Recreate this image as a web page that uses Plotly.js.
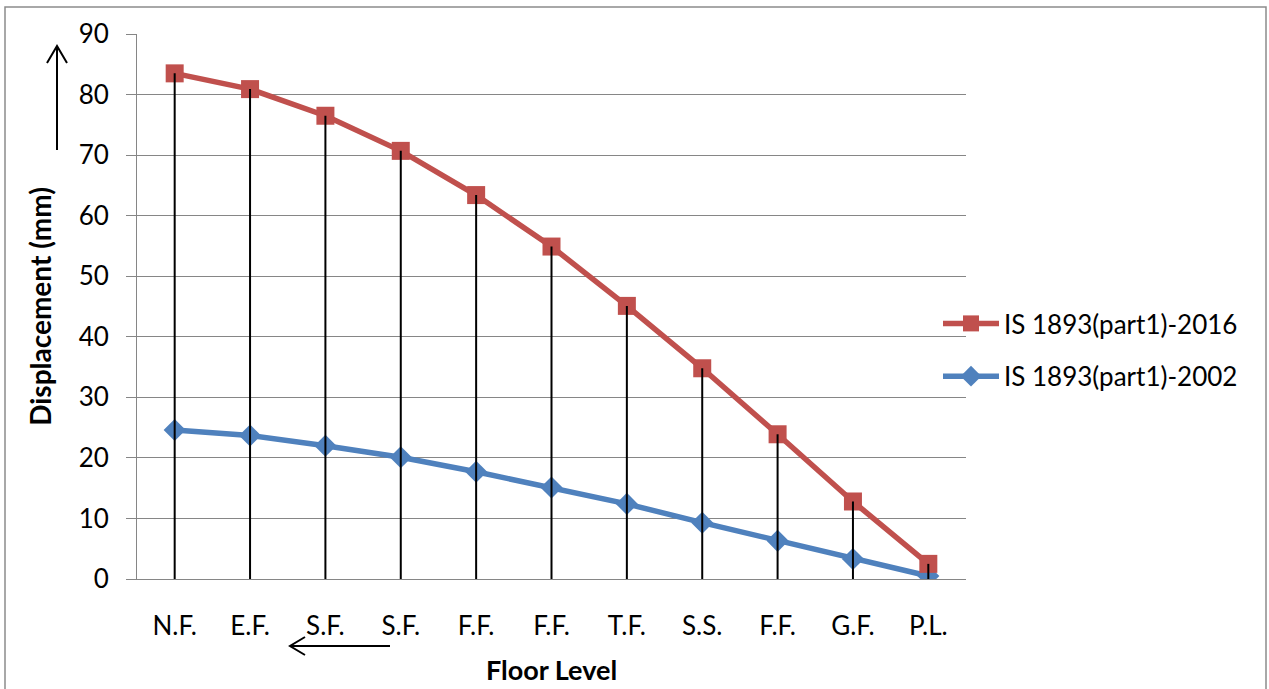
<!DOCTYPE html>
<html>
<head>
<meta charset="utf-8">
<script src="https://cdn.plot.ly/plotly-3.0.1.min.js"></script>
<style>html,body{margin:0;padding:0;background:#fff;}#chart{width:1269px;height:689px;}</style>
</head>
<body>
<div id="chart"></div>
<script>
var floorLabels = ["N.F.", "E.F.", "S.F.", "S.F.", "F.F.", "F.F.", "T.F.", "S.S.", "F.F.", "G.F.", "P.L."];
var disp2016 = [83.5, 80.9, 76.5, 70.7, 63.4, 54.9, 45.1, 34.8, 23.9, 12.8, 2.5];
var disp2002 = [24.6, 23.7, 22.0, 20.1, 17.7, 15.1, 12.4, 9.3, 6.3, 3.3, 0.5];
var name2016 = "IS 1893(part1)-2016";
var name2002 = "IS 1893(part1)-2002";
var yTitle = "Displacement (mm)";
var xTitle = "Floor Level";

var idx = floorLabels.map(function(_, i){ return i; });

// drop lines from the top series to the axis
var dropX = [], dropY = [];
idx.forEach(function(i){
  var top = Math.max(disp2016[i], disp2002[i]);
  dropX.push(i, i, null);
  dropY.push(0, top, null);
});

var FONT = "Lato, 'Open Sans', sans-serif";
var FS = 26;

var traces = [
  {x: idx, y: disp2002, name: name2002, type: "scatter", mode: "lines+markers",
   legendgroup: "b", legendrank: 2,
   line: {color: "#4F81BD", width: 5.5},
   marker: {symbol: "diamond", size: 17, color: "#4F81BD"}},
  {x: idx, y: disp2016, name: name2016, type: "scatter", mode: "lines+markers",
   legendgroup: "a", legendrank: 1,
   line: {color: "#C0504D", width: 5.5},
   marker: {symbol: "square", size: 18, color: "#C0504D"}},
  {x: dropX, y: dropY, type: "scatter", mode: "lines", showlegend: false,
   hoverinfo: "skip", line: {color: "#000000", width: 2}}
];

// pixel -> paper helpers for decorative shapes
var W = 1269, H = 689, L = 137, R = 303, T = 34, B = 110;
var pw = W - L - R, ph = H - T - B;
function px(x){ return (x - L) / pw; }
function py(y){ return (H - B - y) / ph; }

function arrowPath(x1, y1, x2, y2, hx1, hy1, hx2, hy2){
  return "M" + px(x1) + "," + py(y1) + " L" + px(x2) + "," + py(y2) +
         " M" + px(hx1) + "," + py(hy1) + " L" + px(x2) + "," + py(y2) +
         " L" + px(hx2) + "," + py(hy2);
}

var layout = {
  width: W, height: H,
  margin: {l: L, r: R, t: T, b: B, pad: 0},
  paper_bgcolor: "#ffffff", plot_bgcolor: "#ffffff",
  font: {family: FONT, size: FS, color: "#000000"},
  showlegend: true,
  legend: {x: px(938), xanchor: "left", y: py(350), yanchor: "middle",
           traceorder: "grouped", tracegroupgap: 16, itemwidth: 56,
           font: {family: FONT, size: FS, color: "#000000"},
           bgcolor: "rgba(0,0,0,0)", borderwidth: 0},
  xaxis: {
    range: [-0.5, 10.5], tickmode: "array", tickvals: idx, ticktext: floorLabels,
    showgrid: false, zeroline: false, showline: true, linecolor: "#868686", linewidth: 1,
    ticks: "", ticklabelstandoff: 24,
    tickfont: {family: FONT, size: FS, color: "#000000"},
    title: {text: xTitle, font: {family: FONT, size: 27, color: "#000000", weight: "bold"}, standoff: 20}
  },
  yaxis: {
    range: [0, 90], dtick: 10, tick0: 0,
    showgrid: true, gridcolor: "#868686", gridwidth: 1,
    zeroline: false, showline: true, linecolor: "#868686", linewidth: 1,
    ticks: "outside", ticklen: 10, tickcolor: "#868686", tickwidth: 1,
    ticklabelstandoff: 12,
    tickfont: {family: FONT, size: FS, color: "#000000"},
    title: {text: yTitle, font: {family: FONT, size: 28, color: "#000000", weight: "bold"}, standoff: 18}
  },
  shapes: [
    {type: "rect", xref: "paper", yref: "paper", x0: px(5), y0: py(700), x1: px(1266), y1: py(7),
     line: {color: "#8c8c8c", width: 1.5}, fillcolor: "rgba(0,0,0,0)", layer: "below"},
    {type: "path", xref: "paper", yref: "paper",
     path: arrowPath(57, 150, 57, 46, 47, 63, 67, 63), line: {color: "#000000", width: 2}},
    {type: "path", xref: "paper", yref: "paper",
     path: arrowPath(390, 646, 290, 646, 305, 637, 305, 655), line: {color: "#000000", width: 2}}
  ]
};

Plotly.newPlot("chart", traces, layout, {displayModeBar: false, staticPlot: true});
</script>
</body>
</html>
